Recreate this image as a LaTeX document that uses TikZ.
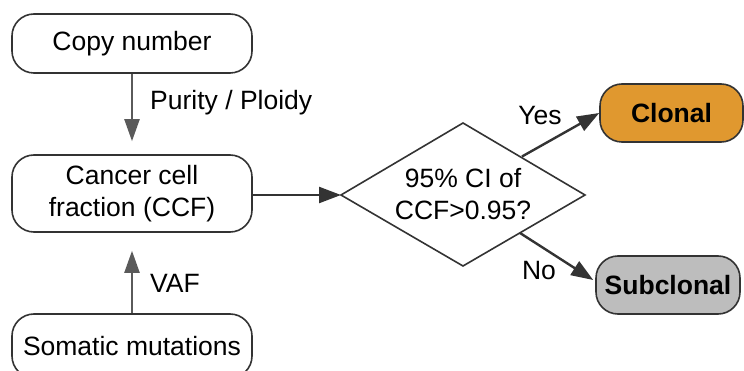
\documentclass[tikz,border=0pt]{standalone}
\usepackage{fontspec}
\setmainfont{Liberation Sans}
\usetikzlibrary{arrows.meta}
\definecolor{boxline}{HTML}{333333}
\definecolor{arrgray}{HTML}{5A5A5A}
\definecolor{clonalfill}{HTML}{E0982F}
\definecolor{subfill}{HTML}{BDBDBD}
\tikzset{
  box/.style={draw=boxline, line width=1.6pt, rounded corners=22pt, minimum width=240pt,
    minimum height=59pt, inner sep=0pt, align=center, font=\fontsize{26.5}{32}\selectfont},
  resbox/.style={box, minimum width=143pt, minimum height=58pt, font=\fontsize{26.5}{31}\selectfont\bfseries},
  lbl/.style={inner sep=0pt, font=\fontsize{26.5}{31.5}\selectfont},
  grayarr/.style={draw=arrgray, line width=2.2pt, -{Triangle[length=22pt,width=15pt]}},
  darkarr/.style={draw=boxline, line width=2.4pt, -{Triangle[length=22pt,width=16pt]}},
}
\begin{document}
\begin{tikzpicture}[x=1pt,y=-1pt]
\useasboundingbox (0,0) rectangle (744,371);
\node[box] (copy) at (132,43.5) {Copy number};
\node[box, minimum height=77pt] (ccf) at (132,193.5) {Cancer cell\\fraction (CCF)};
\node[box, minimum height=64pt] (som) at (132,346) {Somatic mutations};
\node[resbox, fill=clonalfill] (clonal) at (671.5,113) {Clonal};
\node[resbox, fill=subfill, minimum width=144pt] (sub) at (668,285) {Subclonal};
% diamond
\coordinate (dL) at (341,195);
\coordinate (dT) at (463,123);
\coordinate (dR) at (585,195);
\coordinate (dB) at (463,266);
\draw[boxline, line width=1.6pt, line join=miter] (dL) -- (dT) -- (dR) -- (dB) -- cycle;
\node[lbl, align=center] (q) at (463,194) {95\% CI of\\CCF>0.95?};
\coordinate (ys) at (522,156.5);
\coordinate (ns) at (520,233);
% arrows
\draw[grayarr, shorten >=13pt] (copy.south) -- (ccf.north);
\draw[grayarr, shorten >=18pt] (som.north) -- (ccf.south);
\draw[darkarr] (ccf.east |- dL) -- (dL);
\draw[darkarr] (ys) -- (clonal.west);
\draw[darkarr] (ns) -- ([shift={(-2,-5)}]sub.west);
% labels
\node[lbl, anchor=west] (pp) at (150,102.5) {Purity / Ploidy};
\node[lbl, anchor=west] (vaf) at (150,283) {VAF};
\node[lbl] (yes) at (540,116) {Yes};
\node[lbl] (no) at (539,271) {No};
\end{tikzpicture}
\end{document}
